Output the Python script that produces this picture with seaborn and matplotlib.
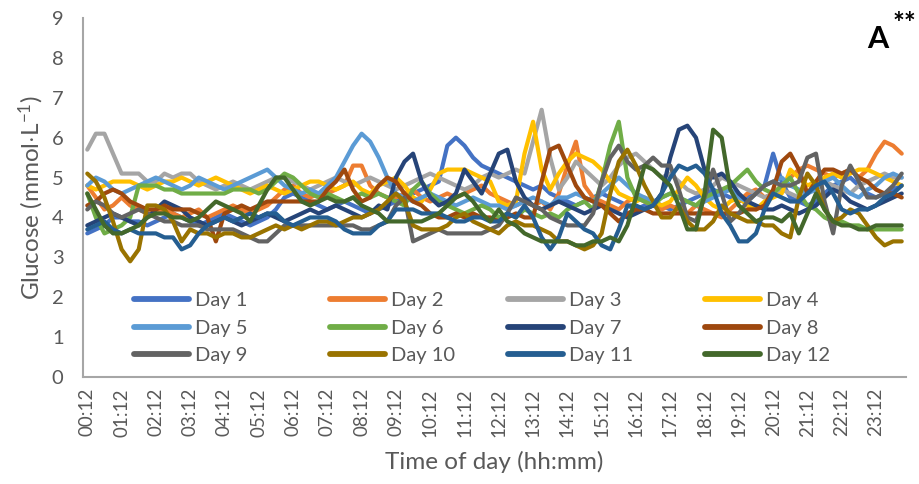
import numpy as np
import pandas as pd
import matplotlib
matplotlib.use("Agg")
import matplotlib.pyplot as plt
import seaborn as sns

# Sampling times: every 15 minutes starting at 00:12
times = [f"{(12 + 15 * k) // 60:02d}:{(12 + 15 * k) % 60:02d}" for k in range(96)]
hour_ticks = times[::4]

# Glucose readings (mmol/L), one list per day, 96 readings each
day1 = [3.6, 3.7, 3.8, 4.0,  4.0, 3.9, 3.9, 3.8,  3.9, 4.0, 4.1, 4.0,  3.9, 3.8, 3.9, 4.0,
        4.1, 4.0, 3.9, 3.8,  3.9, 4.0, 4.2, 4.5,  4.6, 4.5, 4.4, 4.3,  4.2, 4.3, 4.4, 4.3,
        4.2, 4.1, 4.2, 4.3,  4.4, 4.5, 4.6, 4.7,  4.8, 4.9, 5.8, 6.0,  5.8, 5.5, 5.3, 5.2,
        5.1, 5.0, 4.9, 4.8,  4.7, 4.8, 4.6, 4.5,  4.4, 4.3, 4.4, 4.5,  4.6, 4.5, 4.4, 4.3,
        4.2, 4.3, 4.4, 4.3,  4.2, 4.3, 4.4, 4.5,  4.6, 4.7, 4.6, 4.5,  4.4, 4.5, 4.6, 4.8,
        5.6, 4.9, 4.5, 4.4,  4.3, 4.4, 4.6, 4.8,  4.9, 5.0, 4.8, 4.6,  4.5, 4.6, 4.7, 4.8]
day2 = [4.8, 4.5, 4.2, 4.3,  4.5, 4.3, 4.2, 4.1,  4.1, 4.2, 4.1, 4.0,  4.1, 4.2, 4.0, 4.1,
        4.2, 4.3, 4.2, 4.1,  4.2, 4.3, 4.5, 4.7,  4.8, 4.6, 4.5, 4.6,  4.6, 4.7, 4.8, 5.3,
        5.3, 4.8, 4.6, 4.5,  4.5, 4.6, 4.7, 4.5,  4.4, 4.5, 4.6, 4.5,  4.6, 4.7, 4.8, 4.6,
        4.5, 4.4, 4.3, 4.4,  4.3, 4.4, 4.2, 4.6,  5.3, 5.9, 4.8, 4.5,  4.4, 4.3, 4.2, 4.4,
        4.5, 4.4, 4.3, 4.2,  4.3, 4.2, 4.1, 4.3,  4.2, 4.1, 4.0, 4.2,  4.4, 4.6, 4.7, 4.5,
        4.6, 4.8, 5.0, 5.2,  5.3, 5.2, 5.1, 5.0,  5.1, 5.2, 5.0, 5.2,  5.6, 5.9, 5.8, 5.6]
day3 = [5.7, 6.1, 6.1, 5.6,  5.1, 5.1, 5.1, 4.9,  4.9, 5.1, 5.0, 5.1,  5.1, 4.9, 4.8, 4.7,
        4.8, 4.9, 4.8, 4.7,  4.8, 4.9, 5.0, 5.0,  4.9, 4.8, 4.7, 4.8,  4.9, 5.0, 4.9, 4.8,
        4.9, 5.0, 4.9, 4.8,  4.7, 4.8, 4.9, 5.0,  5.1, 5.0, 4.9, 4.8,  4.7, 4.8, 5.0, 5.1,
        5.0, 5.1, 5.2, 5.1,  5.9, 6.7, 5.5, 4.7,  5.0, 5.4, 5.2, 5.0,  4.8, 5.0, 5.3, 5.5,
        5.6, 5.4, 5.2, 5.0,  5.1, 4.9, 4.7, 4.6,  4.7, 4.8, 5.0, 4.9,  4.8, 4.7, 4.6, 4.5,
        4.6, 4.7, 4.6, 4.5,  4.6, 4.8, 4.9, 4.8,  4.7, 4.6, 4.8, 4.9,  5.0, 5.1, 5.0, 5.0]
day4 = [4.8, 4.7, 4.8, 4.9,  4.9, 4.9, 4.8, 4.7,  4.8, 4.9, 4.9, 5.0,  4.9, 4.8, 4.9, 5.0,
        4.9, 4.8, 4.7, 4.6,  4.7, 4.8, 4.7, 4.6,  4.7, 4.8, 4.9, 4.9,  4.8, 4.7, 4.8, 4.9,
        4.7, 4.6, 4.8, 4.9,  5.0, 4.8, 4.5, 4.4,  4.7, 5.1, 5.2, 5.2,  5.2, 5.1, 5.0, 4.9,
        4.4, 4.3, 4.4, 5.6,  6.4, 5.2, 4.7, 5.1,  5.4, 5.6, 5.5, 5.4,  5.2, 4.9, 4.6, 4.5,
        4.4, 4.5, 4.4, 4.3,  4.4, 4.7, 5.0, 4.8,  4.5, 4.3, 4.2, 4.4,  4.5, 4.3, 4.2, 4.4,
        4.5, 4.6, 5.2, 5.0,  4.8, 4.9, 5.0, 5.1,  5.0, 5.1, 5.2, 5.2,  5.1, 5.0, 4.9, 4.8]
day5 = [4.8, 5.0, 4.9, 4.7,  4.6, 4.7, 4.8, 4.9,  5.0, 4.9, 4.8, 4.7,  4.8, 5.0, 4.9, 4.8,
        4.7, 4.8, 4.9, 5.0,  5.1, 5.2, 5.0, 4.8,  4.7, 4.6, 4.7, 4.6,  4.8, 5.0, 5.4, 5.8,
        6.1, 5.9, 5.5, 5.0,  4.6, 4.5, 4.4, 4.5,  4.6, 4.5, 4.4, 4.3,  4.4, 4.5, 4.4, 4.3,
        4.3, 4.2, 4.3, 4.4,  4.5, 4.4, 4.3, 4.5,  4.5, 4.6, 4.5, 4.4,  4.6, 4.8, 5.0, 4.8,
        4.6, 4.5, 4.4, 4.5,  4.6, 4.5, 4.4, 4.3,  4.4, 4.5, 4.6, 4.7,  4.5, 4.4, 4.6, 4.8,
        4.9, 5.0, 4.8, 4.7,  4.6, 4.7, 4.9, 5.0,  4.8, 4.6, 4.5, 4.7,  4.8, 5.0, 5.1, 5.0]
day6 = [4.6, 4.0, 3.6, 3.7,  3.8, 4.0, 4.8, 4.8,  4.8, 4.7, 4.7, 4.6,  4.6, 4.6, 4.6, 4.6,
        4.6, 4.7, 4.7, 4.7,  4.6, 4.7, 4.9, 5.1,  5.0, 4.8, 4.6, 4.5,  4.6, 4.5, 4.4, 4.5,
        4.6, 4.5, 4.6, 4.5,  4.4, 4.3, 4.7, 4.9,  4.6, 4.4, 4.3, 4.2,  4.1, 4.2, 4.3, 4.2,
        4.0, 4.1, 4.0, 4.2,  4.1, 4.0, 4.1, 4.0,  4.2, 4.3, 4.4, 4.2,  4.9, 5.8, 6.4, 5.0,
        4.5, 4.4, 4.3, 4.5,  4.6, 4.5, 4.4, 4.3,  4.5, 4.6, 4.7, 4.8,  5.0, 5.2, 4.9, 4.7,
        4.6, 4.8, 5.0, 4.6,  4.3, 4.2, 4.0, 3.9,  3.9, 3.8, 3.8, 3.7,  3.7, 3.7, 3.7, 3.7]
day7 = [3.8, 3.9, 4.0, 4.1,  4.0, 3.9, 3.8, 4.0,  4.2, 4.4, 4.3, 4.2,  4.0, 3.9, 3.8, 3.9,
        4.0, 3.9, 3.8, 3.9,  4.0, 4.1, 4.0, 3.9,  4.0, 4.1, 4.2, 4.1,  4.2, 4.3, 4.2, 4.1,
        4.0, 4.1, 4.3, 4.2,  5.0, 5.4, 5.6, 4.9,  4.5, 4.3, 4.4, 4.6,  5.2, 4.9, 4.6, 5.1,
        5.6, 5.7, 4.9, 4.5,  4.3, 4.2, 4.3, 4.4,  4.3, 4.2, 4.1, 4.2,  4.3, 4.2, 4.1, 4.0,
        4.1, 4.2, 4.3, 4.6,  5.5, 6.2, 6.3, 6.0,  5.2, 5.0, 5.1, 4.9,  4.6, 4.4, 4.3, 4.2,
        4.2, 4.3, 4.2, 4.1,  4.2, 4.3, 4.5, 4.7,  4.6, 4.4, 4.3, 4.2,  4.3, 4.4, 4.5, 4.6]
day8 = [4.3, 4.4, 4.6, 4.7,  4.6, 4.4, 4.3, 4.2,  4.2, 4.3, 4.2, 4.2,  4.2, 4.1, 4.0, 3.4,
        4.1, 4.2, 4.3, 4.2,  4.3, 4.4, 4.4, 4.4,  4.4, 4.4, 4.4, 4.4,  4.7, 4.9, 5.2, 4.7,
        4.4, 4.5, 4.8, 5.0,  4.9, 4.6, 4.4, 4.3,  4.1, 4.0, 4.0, 4.1,  4.0, 4.1, 4.0, 4.0,
        3.9, 4.0, 4.1, 4.0,  4.0, 4.9, 5.7, 5.8,  5.3, 4.8, 4.5, 4.4,  4.3, 4.1, 3.9, 4.1,
        4.2, 4.2, 4.1, 4.1,  4.1, 4.1, 4.1, 4.1,  4.1, 4.1, 4.1, 4.1,  4.1, 4.2, 4.2, 4.3,
        4.7, 5.4, 5.6, 5.2,  4.6, 4.9, 5.2, 5.2,  5.1, 5.2, 5.0, 4.9,  4.7, 4.6, 4.6, 4.5]
day9 = [4.2, 4.4, 4.3, 4.1,  4.0, 4.1, 4.2, 4.1,  4.0, 3.9, 3.9, 3.8,  3.8, 3.8, 3.7, 3.7,
        3.7, 3.7, 3.6, 3.5,  3.4, 3.4, 3.6, 3.8,  3.8, 3.8, 3.8, 3.8,  3.8, 3.8, 3.8, 3.8,
        3.7, 3.7, 3.8, 3.9,  4.3, 4.5, 3.4, 3.5,  3.6, 3.7, 3.6, 3.6,  3.6, 3.6, 3.6, 3.7,
        3.8, 4.1, 4.5, 4.4,  4.3, 4.2, 4.0, 3.9,  3.8, 3.8, 3.8, 4.1,  4.9, 5.5, 5.8, 5.4,
        5.2, 5.3, 5.5, 5.3,  5.3, 4.7, 4.0, 3.9,  4.5, 5.2, 4.6, 3.9,  4.1, 4.4, 4.6, 4.8,
        4.9, 4.8, 4.8, 4.9,  5.5, 5.6, 4.4, 3.6,  4.8, 5.3, 4.9, 4.5,  4.5, 4.6, 4.8, 5.1]
day10 = [5.1, 4.9, 4.5, 3.9,  3.2, 2.9, 3.2, 4.3,  4.3, 4.2, 3.9, 3.4,  3.7, 3.6, 3.6, 3.5,
         3.6, 3.6, 3.5, 3.5,  3.6, 3.7, 3.8, 3.7,  3.8, 3.7, 3.8, 3.9,  3.9, 3.8, 3.9, 4.0,
         4.0, 4.1, 4.2, 4.4,  4.6, 4.4, 3.8, 3.7,  3.7, 3.7, 3.8, 4.0,  4.1, 3.9, 3.8, 3.7,
         3.6, 3.8, 3.9, 3.8,  3.8, 3.7, 3.6, 3.4,  3.4, 3.3, 3.2, 3.3,  3.6, 4.6, 5.4, 5.7,
         5.3, 4.8, 4.4, 4.0,  4.0, 4.3, 3.9, 3.7,  3.7, 3.9, 4.3, 4.1,  4.0, 3.9, 3.9, 3.8,
         3.8, 3.6, 3.5, 4.5,  5.1, 4.8, 4.2, 3.9,  4.0, 4.2, 4.1, 3.8,  3.5, 3.3, 3.4, 3.4]
day11 = [3.7, 3.8, 3.9, 3.7,  3.6, 3.7, 3.6, 3.6,  3.6, 3.5, 3.5, 3.2,  3.3, 3.6, 3.8, 3.9,
         4.0, 3.9, 4.0, 4.1,  4.0, 4.1, 4.1, 3.9,  3.8, 3.9, 4.0, 4.0,  4.0, 3.9, 3.7, 3.6,
         3.6, 3.6, 3.8, 3.9,  4.2, 4.2, 4.2, 4.1,  4.1, 4.1, 4.0, 3.9,  3.9, 4.0, 4.0, 3.9,
         3.9, 4.1, 4.0, 4.3,  4.0, 3.5, 3.2, 3.5,  4.1, 3.9, 3.7, 3.6,  3.3, 3.2, 3.7, 4.3,
         4.3, 4.2, 4.3, 4.6,  5.0, 5.3, 5.2, 5.3,  5.1, 4.7, 4.1, 3.8,  3.4, 3.4, 3.6, 4.2,
         4.6, 4.5, 4.4, 4.4,  4.6, 4.8, 4.9, 4.6,  4.2, 4.1, 4.2, 4.2,  4.3, 4.5, 4.6, 4.8]
day12 = [4.6, 4.2, 3.8, 3.6,  3.6, 3.7, 3.8, 4.0,  4.1, 4.1, 4.0, 4.0,  3.9, 4.0, 4.2, 4.4,
         4.3, 4.2, 4.1, 3.9,  4.3, 4.7, 5.0, 5.0,  4.7, 4.4, 4.3, 4.4,  4.5, 4.4, 4.4, 4.5,
         4.3, 4.2, 4.1, 3.9,  3.9, 3.9, 3.9, 3.9,  4.0, 4.1, 4.3, 4.5,  4.6, 4.4, 4.1, 3.9,
         4.2, 3.9, 3.8, 3.6,  3.5, 3.4, 3.4, 3.4,  3.4, 3.3, 3.3, 3.4,  3.4, 3.5, 3.4, 3.8,
         4.5, 5.3, 5.2, 5.0,  4.8, 4.3, 3.7, 3.7,  4.6, 6.2, 6.0, 4.7,  4.3, 4.1, 3.9, 4.0,
         4.0, 3.9, 4.1, 3.6,  4.1, 4.6, 4.2, 3.9,  3.8, 3.8, 3.7, 3.7,  3.8, 3.8, 3.8, 3.8]

day_names = [f"Day {d}" for d in range(1, 13)]
series = [day1, day2, day3, day4, day5, day6, day7, day8, day9, day10, day11, day12]
colors = ["#4472C4", "#ED7D31", "#A5A5A5", "#FFC000", "#5B9BD5", "#70AD47",
          "#264478", "#9E480E", "#636363", "#997300", "#255E91", "#43682B"]

df = pd.concat(
    [pd.DataFrame({"slot": np.arange(len(vals)), "glucose": vals, "day": name})
     for name, vals in zip(day_names, series)],
    ignore_index=True,
)

sns.set_theme(style="white")
plt.rcParams["font.family"] = ["Lato", "DejaVu Sans"]
plt.rcParams["mathtext.fontset"] = "custom"
plt.rcParams["mathtext.rm"] = "Lato"
plt.rcParams["mathtext.it"] = "Lato:italic"
plt.rcParams["mathtext.bf"] = "Lato:bold"

text_gray = "#595959"
fig = plt.figure(figsize=(9.2, 4.84), dpi=100)
ax = fig.add_axes([83 / 920, 1 - 377 / 484, 823 / 920, 359 / 484])

sns.lineplot(data=df, x="slot", y="glucose", hue="day", hue_order=day_names,
             palette=colors, linewidth=3.0, legend=False, ax=ax)

ax.set_xlim(-0.5, 95.5)
ax.set_ylim(0, 9)
ax.set_yticks(range(0, 10))
ax.set_xticks(np.arange(0, 96, 4))
ax.set_xticklabels(hour_ticks, rotation=90)
ax.tick_params(axis="both", length=0, colors=text_gray)
ax.tick_params(axis="y", pad=14, labelsize=14.5)
ax.tick_params(axis="x", pad=8, labelsize=13.5)

for side in ("top", "right"):
    ax.spines[side].set_visible(False)
for side in ("left", "bottom"):
    ax.spines[side].set_color("#A6A6A6")
    ax.spines[side].set_linewidth(1.5)

ax.set_xlabel("Time of day (hh:mm)", fontsize=17.5, color=text_gray, labelpad=10)
ax.set_ylabel(r"Glucose (mmol$\cdot$L$^{-1}$)", fontsize=17.5, color=text_gray, labelpad=4)

# Panel tag
fig.text(878 / 920, 1 - 39 / 484, "A", fontsize=22, fontweight="bold",
         ha="center", va="center", color="black")
fig.text(904 / 920, 1 - 24 / 484, "**", fontsize=20, fontweight="bold",
         ha="center", va="center", color="black")

# Legend laid out row by row: Day 1-4, Day 5-8, Day 9-12
lines = ax.get_lines()[:12]
col_x = [134, 330, 508, 705]
for c in range(4):
    idx = [c, c + 4, c + 8]
    leg = fig.legend([lines[i] for i in idx], [day_names[i] for i in idx],
                     loc="upper left", bbox_to_anchor=(col_x[c] / 920, 1 - 292 / 484),
                     frameon=False, fontsize=14.5, handlelength=2.75, handletextpad=0.3,
                     labelspacing=0.52, borderpad=0, borderaxespad=0)
    for t in leg.get_texts():
        t.set_color(text_gray)
    for h in leg.legend_handles:
        h.set_linewidth(4.2)

fig.savefig("out.png", dpi=100)
